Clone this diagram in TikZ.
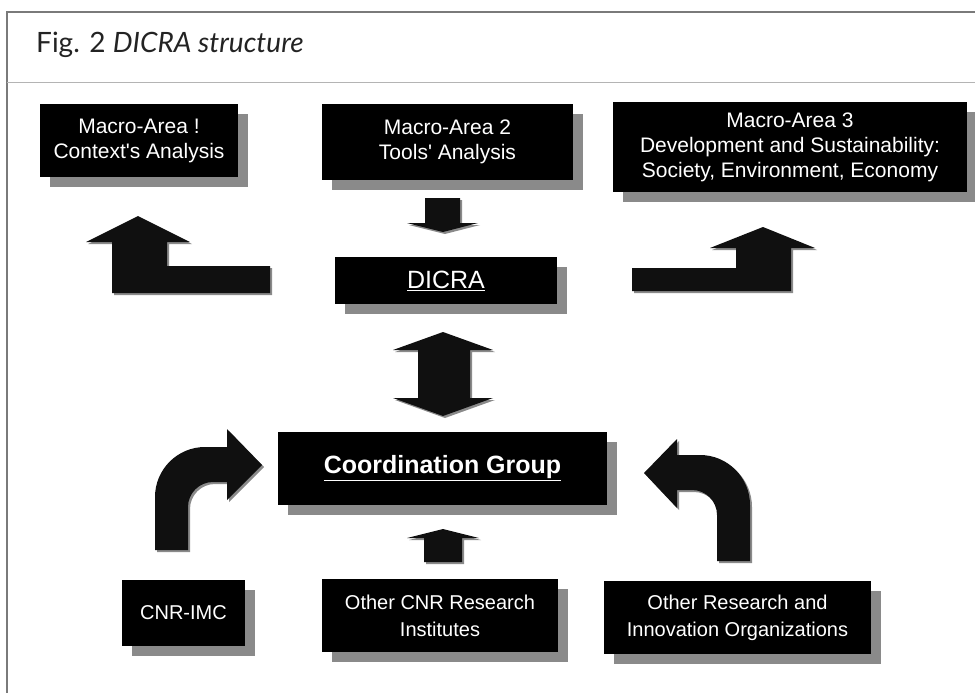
\documentclass[tikz,border=0pt]{standalone}
\usepackage{fontspec}
\setmainfont{Liberation Sans}[Ligatures=TeXOff]
\newfontfamily\captionfont{Lato}
\usetikzlibrary{shadows}
\definecolor{cShadow}{HTML}{8A8A8A}
\definecolor{cFrame}{HTML}{7A7A7A}
\definecolor{cRule}{HTML}{B4B4B4}
\definecolor{cTitle}{HTML}{232323}
\definecolor{cArrow}{HTML}{101010}

\begin{document}
\begin{tikzpicture}[
    x=1pt, y=-1pt,
    box/.style={fill=black, text=white, align=center, inner sep=0pt,
                drop shadow={shadow xshift=10pt, shadow yshift=-10pt,
                             opacity=1, fill=cShadow},
                font=\fontsize{21}{25}\selectfont},
    lowbox/.style={box, font=\fontsize{20}{27}\selectfont},
    barrow/.style={fill=cArrow,
                   drop shadow={shadow xshift=2pt, shadow yshift=-2pt,
                                opacity=1, fill=cShadow}},
]
\useasboundingbox (0,0) rectangle (975,693);

% ================================================================
%  Frame and caption
% ================================================================

\draw[cFrame, line width=1.2pt] (975,12) -- (7,12) -- (7,693);
\draw[cRule, line width=1pt] (7,83) -- (975,83);

\node[anchor=base west, inner sep=0pt, text=cTitle,
      font=\captionfont\fontsize{28}{30}\selectfont] (title) at (36,53)
    {Fig. 2 \textit{DICRA structure}};

% ================================================================
%  ROW 1: Macro-Areas + DICRA
% ================================================================

\node[box, minimum width=198pt, minimum height=73pt] (ma1) at (139,140.5)
    {Macro-Area !\\Context's Analysis};

\node[box, minimum width=251pt, minimum height=76pt] (ma2) at (447.5,142)
    {Macro-Area 2\\Tools' Analysis};

\node[box, minimum width=354pt, minimum height=90pt] (ma3) at (790,147)
    {Macro-Area 3\\Development and Sustainability:\\Society, Environment, Economy};

\node[box, minimum width=222pt, minimum height=47pt,
      font=\fontsize{25}{28}\selectfont] (dicra) at (446,280.5)
    {\underline{DICRA}};

% Macro-Area 2 -> DICRA
\fill[barrow] (425,198) -- (460,198) -- (460,223) -- (478,223) -- (443,232)
    -- (407,223) -- (425,223) -- cycle;

% DICRA -> Macro-Area 1
\fill[barrow] (138,216) -- (190,242) -- (167,242) -- (167,266) -- (270,266)
    -- (270,293) -- (112,293) -- (112,242) -- (86,242) -- cycle;

% DICRA -> Macro-Area 3
\fill[barrow] (632,268) -- (736,268) -- (736,248) -- (710,248) -- (763,227)
    -- (815,248) -- (791,248) -- (791,291) -- (632,291) -- cycle;

% ================================================================
%  ROW 2: Coordination Group
% ================================================================

\node[box, minimum width=329pt, minimum height=73pt,
      font=\bfseries\fontsize{25}{28}\selectfont] (coord) at (442.5,468.5)
    {\underline{Coordination Group}};

% DICRA <-> Coordination Group
\fill[barrow] (443,332) -- (493,350) -- (470,350) -- (470,398) -- (493,398)
    -- (443,416) -- (393,398) -- (418,398) -- (418,350) -- (393,350) -- cycle;

% ================================================================
%  ROW 3: Partners
% ================================================================

\node[lowbox, minimum width=123pt, minimum height=66pt] (cnr) at (183.5,613)
    {CNR-IMC};

\node[lowbox, minimum width=236pt, minimum height=73pt] (inst) at (440,615.5)
    {Other CNR Research\\Institutes};

\node[lowbox, minimum width=267pt, minimum height=73pt] (orgs) at (737.5,617.5)
    {Other Research and\\Innovation Organizations};

% Other CNR institutes -> Coordination Group
\fill[barrow] (443,529) -- (479,538) -- (462,538) -- (462,562) -- (424,562)
    -- (424,538) -- (407,538) -- cycle;

% CNR-IMC -> Coordination Group
\fill[barrow] (155,550) -- (155,497) .. controls (155,469.4) and (177.4,447) .. (205,447)
    -- (227,447) -- (227,429) -- (262,465) -- (227,500) -- (227,482) -- (213,482)
    .. controls (199.2,482) and (188,493.2) .. (188,507) -- (188,550) -- cycle;

% Other organizations -> Coordination Group
\fill[barrow] (750,561) -- (750,505) .. controls (750,477.4) and (727.6,455) .. (700,455)
    -- (677,455) -- (677,439) -- (644,473) -- (677,508) -- (677,490) -- (692,490)
    .. controls (705.8,490) and (717,501.2) .. (717,515) -- (717,561) -- cycle;

\end{tikzpicture}
\end{document}
